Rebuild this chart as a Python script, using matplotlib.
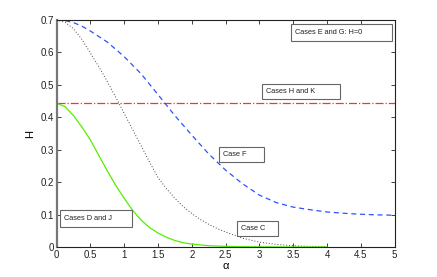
import matplotlib
matplotlib.use('Agg')
import matplotlib.pyplot as plt
from matplotlib.patches import Rectangle

plt.rcParams['font.family'] = ['Liberation Sans', 'DejaVu Sans']

# Case F (blue dashed)
alpha_f = [0, 0.125, 0.25, 0.375, 0.5, 0.75, 1.0, 1.25, 1.5, 1.75, 2.0, 2.25,
           2.5, 2.75, 3.0, 3.25, 3.5, 3.75, 4.0, 4.25, 4.5, 4.75, 5.0]
h_case_f = [0.700, 0.698, 0.692, 0.681, 0.666, 0.632, 0.587, 0.534, 0.470,
            0.405, 0.345, 0.287, 0.237, 0.195, 0.160, 0.137, 0.123, 0.115,
            0.108, 0.104, 0.101, 0.099, 0.098]

# Case C (black dotted)
alpha_c = [0, 0.125, 0.25, 0.375, 0.5, 0.625, 0.75, 0.875, 1.0, 1.125, 1.25,
           1.375, 1.5, 1.625, 1.75, 1.875, 2.0, 2.125, 2.25, 2.375, 2.5,
           2.75, 3.0, 3.25, 3.5, 3.75, 4.0]
h_case_c = [0.700, 0.693, 0.673, 0.640, 0.598, 0.556, 0.510, 0.462, 0.412,
            0.362, 0.312, 0.262, 0.214, 0.180, 0.150, 0.124, 0.103, 0.085,
            0.070, 0.057, 0.046, 0.027, 0.015, 0.008, 0.004, 0.002, 0.001]

# Cases D and J (green solid)
alpha_dj = [0, 0.125, 0.25, 0.375, 0.5, 0.625, 0.75, 0.875, 1.0, 1.125, 1.25,
            1.375, 1.5, 1.625, 1.75, 1.875, 2.0, 2.25, 2.5, 2.75, 3.0, 3.25,
            3.5, 3.75, 4.0]
h_case_dj = [0.443, 0.433, 0.405, 0.370, 0.330, 0.282, 0.235, 0.190, 0.150,
             0.113, 0.083, 0.060, 0.043, 0.030, 0.020, 0.013, 0.009, 0.004,
             0.002, 0.001, 0.0005, 0.0002, 0.0001, 0.0, 0.0]

# Cases H and K (red dash-dot)
alpha_hk = [0, 5]
h_case_hk = [0.443, 0.443]

x_ticks = [0, 0.5, 1, 1.5, 2, 2.5, 3, 3.5, 4, 4.5, 5]
x_ticklabels = ['0', '0.5', '1', '1.5', '2', '2.5', '3', '3.5', '4', '4.5', '5']
y_ticks = [0, 0.1, 0.2, 0.3, 0.4, 0.5, 0.6, 0.7]
y_ticklabels = ['0', '0.1', '0.2', '0.3', '0.4', '0.5', '0.6', '0.7']

# (label, x0, y0, w, h) in axes fraction
boxes = [
    ('Cases E and G: H=0', 0.693, 0.907, 0.299, 0.075),
    ('Cases H and K', 0.608, 0.652, 0.231, 0.066),
    ('Case F', 0.480, 0.374, 0.133, 0.066),
    ('Case C', 0.534, 0.048, 0.121, 0.066),
    ('Cases D and J', 0.010, 0.088, 0.213, 0.075),
]

fig = plt.figure(figsize=(4.37, 2.77), dpi=100)
ax = fig.add_axes([0.1295, 0.1083, 0.7735, 0.8195])

ax.plot(alpha_hk, h_case_hk, color='#ff3030', linestyle='-.', linewidth=0.9)
ax.plot(alpha_f, h_case_f, color='#3050ff', linestyle=(0, (4, 3)), linewidth=0.9)
ax.plot(alpha_c, h_case_c, color='#444444', linestyle=(0, (1, 2)), linewidth=0.7)
ax.plot(alpha_dj, h_case_dj, color='#55ee00', linestyle='-', linewidth=0.9)

for label, x0, y0, w, h in boxes:
    ax.add_patch(Rectangle((x0, y0), w, h, transform=ax.transAxes,
                           facecolor='white', edgecolor='#666666',
                           linewidth=0.8, zorder=5))
    ax.text(x0 + 0.012, y0 + h / 2, label, transform=ax.transAxes,
            fontsize=5.3, va='center', ha='left', color='#222222', zorder=6)

ax.set_xlim(0, 5)
ax.set_ylim(0, 0.7)
ax.set_xticks(x_ticks)
ax.set_xticklabels(x_ticklabels)
ax.set_yticks(y_ticks)
ax.set_yticklabels(y_ticklabels)
ax.tick_params(direction='in', length=3, width=0.6, labelsize=7,
               top=True, right=True, pad=2, colors='#222222')
for side in ['top', 'right', 'bottom']:
    ax.spines[side].set_linewidth(0.8)
    ax.spines[side].set_color('#222222')
ax.spines['left'].set_linewidth(1.6)
ax.spines['left'].set_color('#777777')

ax.set_xlabel('α', fontsize=8, labelpad=1)
ax.set_ylabel('H', fontsize=8, labelpad=4)

fig.savefig('out.png', dpi=100, facecolor='white')
